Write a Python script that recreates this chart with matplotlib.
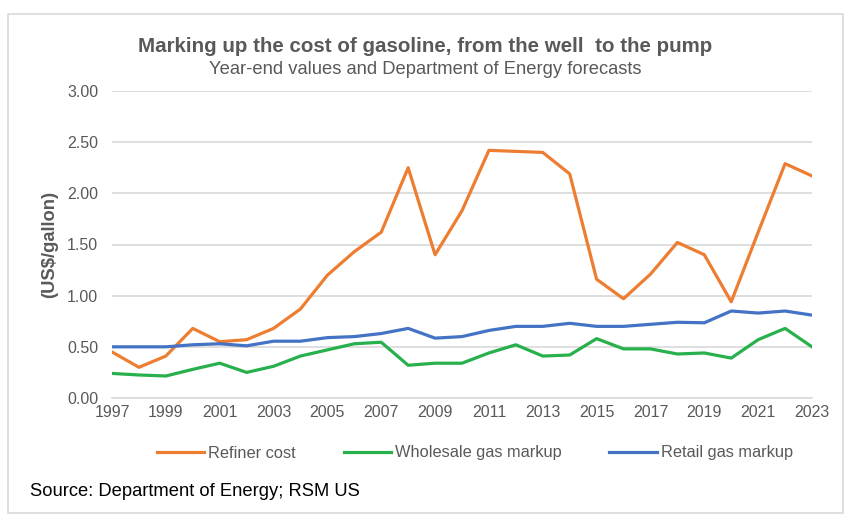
import matplotlib.pyplot as plt
from matplotlib.patches import Rectangle

plt.rcParams['font.family'] = ['Liberation Sans', 'DejaVu Sans']

years = list(range(1997, 2024))
refiner_cost = [0.45, 0.30, 0.41, 0.68, 0.55, 0.57, 0.68, 0.87, 1.20, 1.43, 1.62, 2.25, 1.40,
                1.83, 2.42, 2.41, 2.40, 2.19, 1.16, 0.97, 1.21, 1.52, 1.40, 0.94, 1.62, 2.29, 2.17]
wholesale_markup = [0.24, 0.225, 0.215, 0.28, 0.34, 0.25, 0.31, 0.41, 0.47, 0.53, 0.545, 0.32, 0.34,
                    0.34, 0.44, 0.52, 0.41, 0.42, 0.58, 0.48, 0.48, 0.43, 0.44, 0.39, 0.57, 0.68, 0.50]
retail_markup = [0.50, 0.50, 0.50, 0.52, 0.53, 0.51, 0.555, 0.555, 0.59, 0.60, 0.63, 0.68, 0.585,
                 0.60, 0.66, 0.70, 0.70, 0.73, 0.70, 0.70, 0.72, 0.74, 0.735, 0.85, 0.83, 0.85, 0.81]
xtick_years = list(range(1997, 2024, 2))
yticks = [0.0, 0.5, 1.0, 1.5, 2.0, 2.5, 3.0]

fig = plt.figure(figsize=(8.54, 5.32), dpi=100)
# outer chart border
fig.patches.append(Rectangle((8 / 854, 1 - 513 / 532), 835 / 854, 499 / 532,
                             transform=fig.transFigure, fill=False,
                             edgecolor='#d9d9d9', linewidth=1.2))

ax = fig.add_axes([112 / 854, 1 - 398 / 532, 700 / 854, 307 / 532])
ax.plot(years, refiner_cost, color='#ED7D31', linewidth=2.3, label='Refiner cost')
ax.plot(years, wholesale_markup, color='#27B04B', linewidth=2.3, label='Wholesale gas markup')
ax.plot(years, retail_markup, color='#4472C4', linewidth=2.3, label='Retail gas markup')

ax.set_xlim(1997, 2023)
ax.set_ylim(0, 3.0)
ax.set_yticks(yticks)
ax.set_yticklabels([f'{v:.2f}' for v in yticks])
ax.set_xticks(xtick_years)
ax.tick_params(axis='both', length=0, labelsize=11.5, labelcolor='#595959')
ax.tick_params(axis='y', pad=10)
ax.tick_params(axis='x', pad=5)
ax.grid(axis='y', color='#d9d9d9', linewidth=1.2)
ax.set_axisbelow(True)
for s in ['top', 'right', 'left']:
    ax.spines[s].set_visible(False)
ax.spines['bottom'].set_color('#d9d9d9')
ax.spines['bottom'].set_linewidth(1.2)

fig.text(50 / 854, 1 - 244 / 532, '(US$/gallon)', rotation=90, ha='center', va='center',
         fontsize=13.2, fontweight='bold', color='#595959')

fig.text(425 / 854, 1 - 47 / 532, 'Marking up the cost of gasoline, from the well  to the pump',
         ha='center', va='center', fontsize=14.8, fontweight='bold', color='#595959')
fig.text(425 / 854, 1 - 70 / 532, 'Year-end values and Department of Energy forecasts',
         ha='center', va='center', fontsize=13.2, color='#595959')

fig.legend(loc='center', bbox_to_anchor=(475 / 854, 1 - 453 / 532), ncol=3, frameon=False,
           fontsize=11.8, labelcolor='#595959', handlelength=2.9, handletextpad=0.25,
           columnspacing=2.9, borderpad=0, borderaxespad=0)

fig.text(30 / 854, 1 - 491 / 532, 'Source: Department of Energy; RSM US',
         ha='left', va='center', fontsize=13.2, color='black')

fig.savefig('out.png', dpi=100)
